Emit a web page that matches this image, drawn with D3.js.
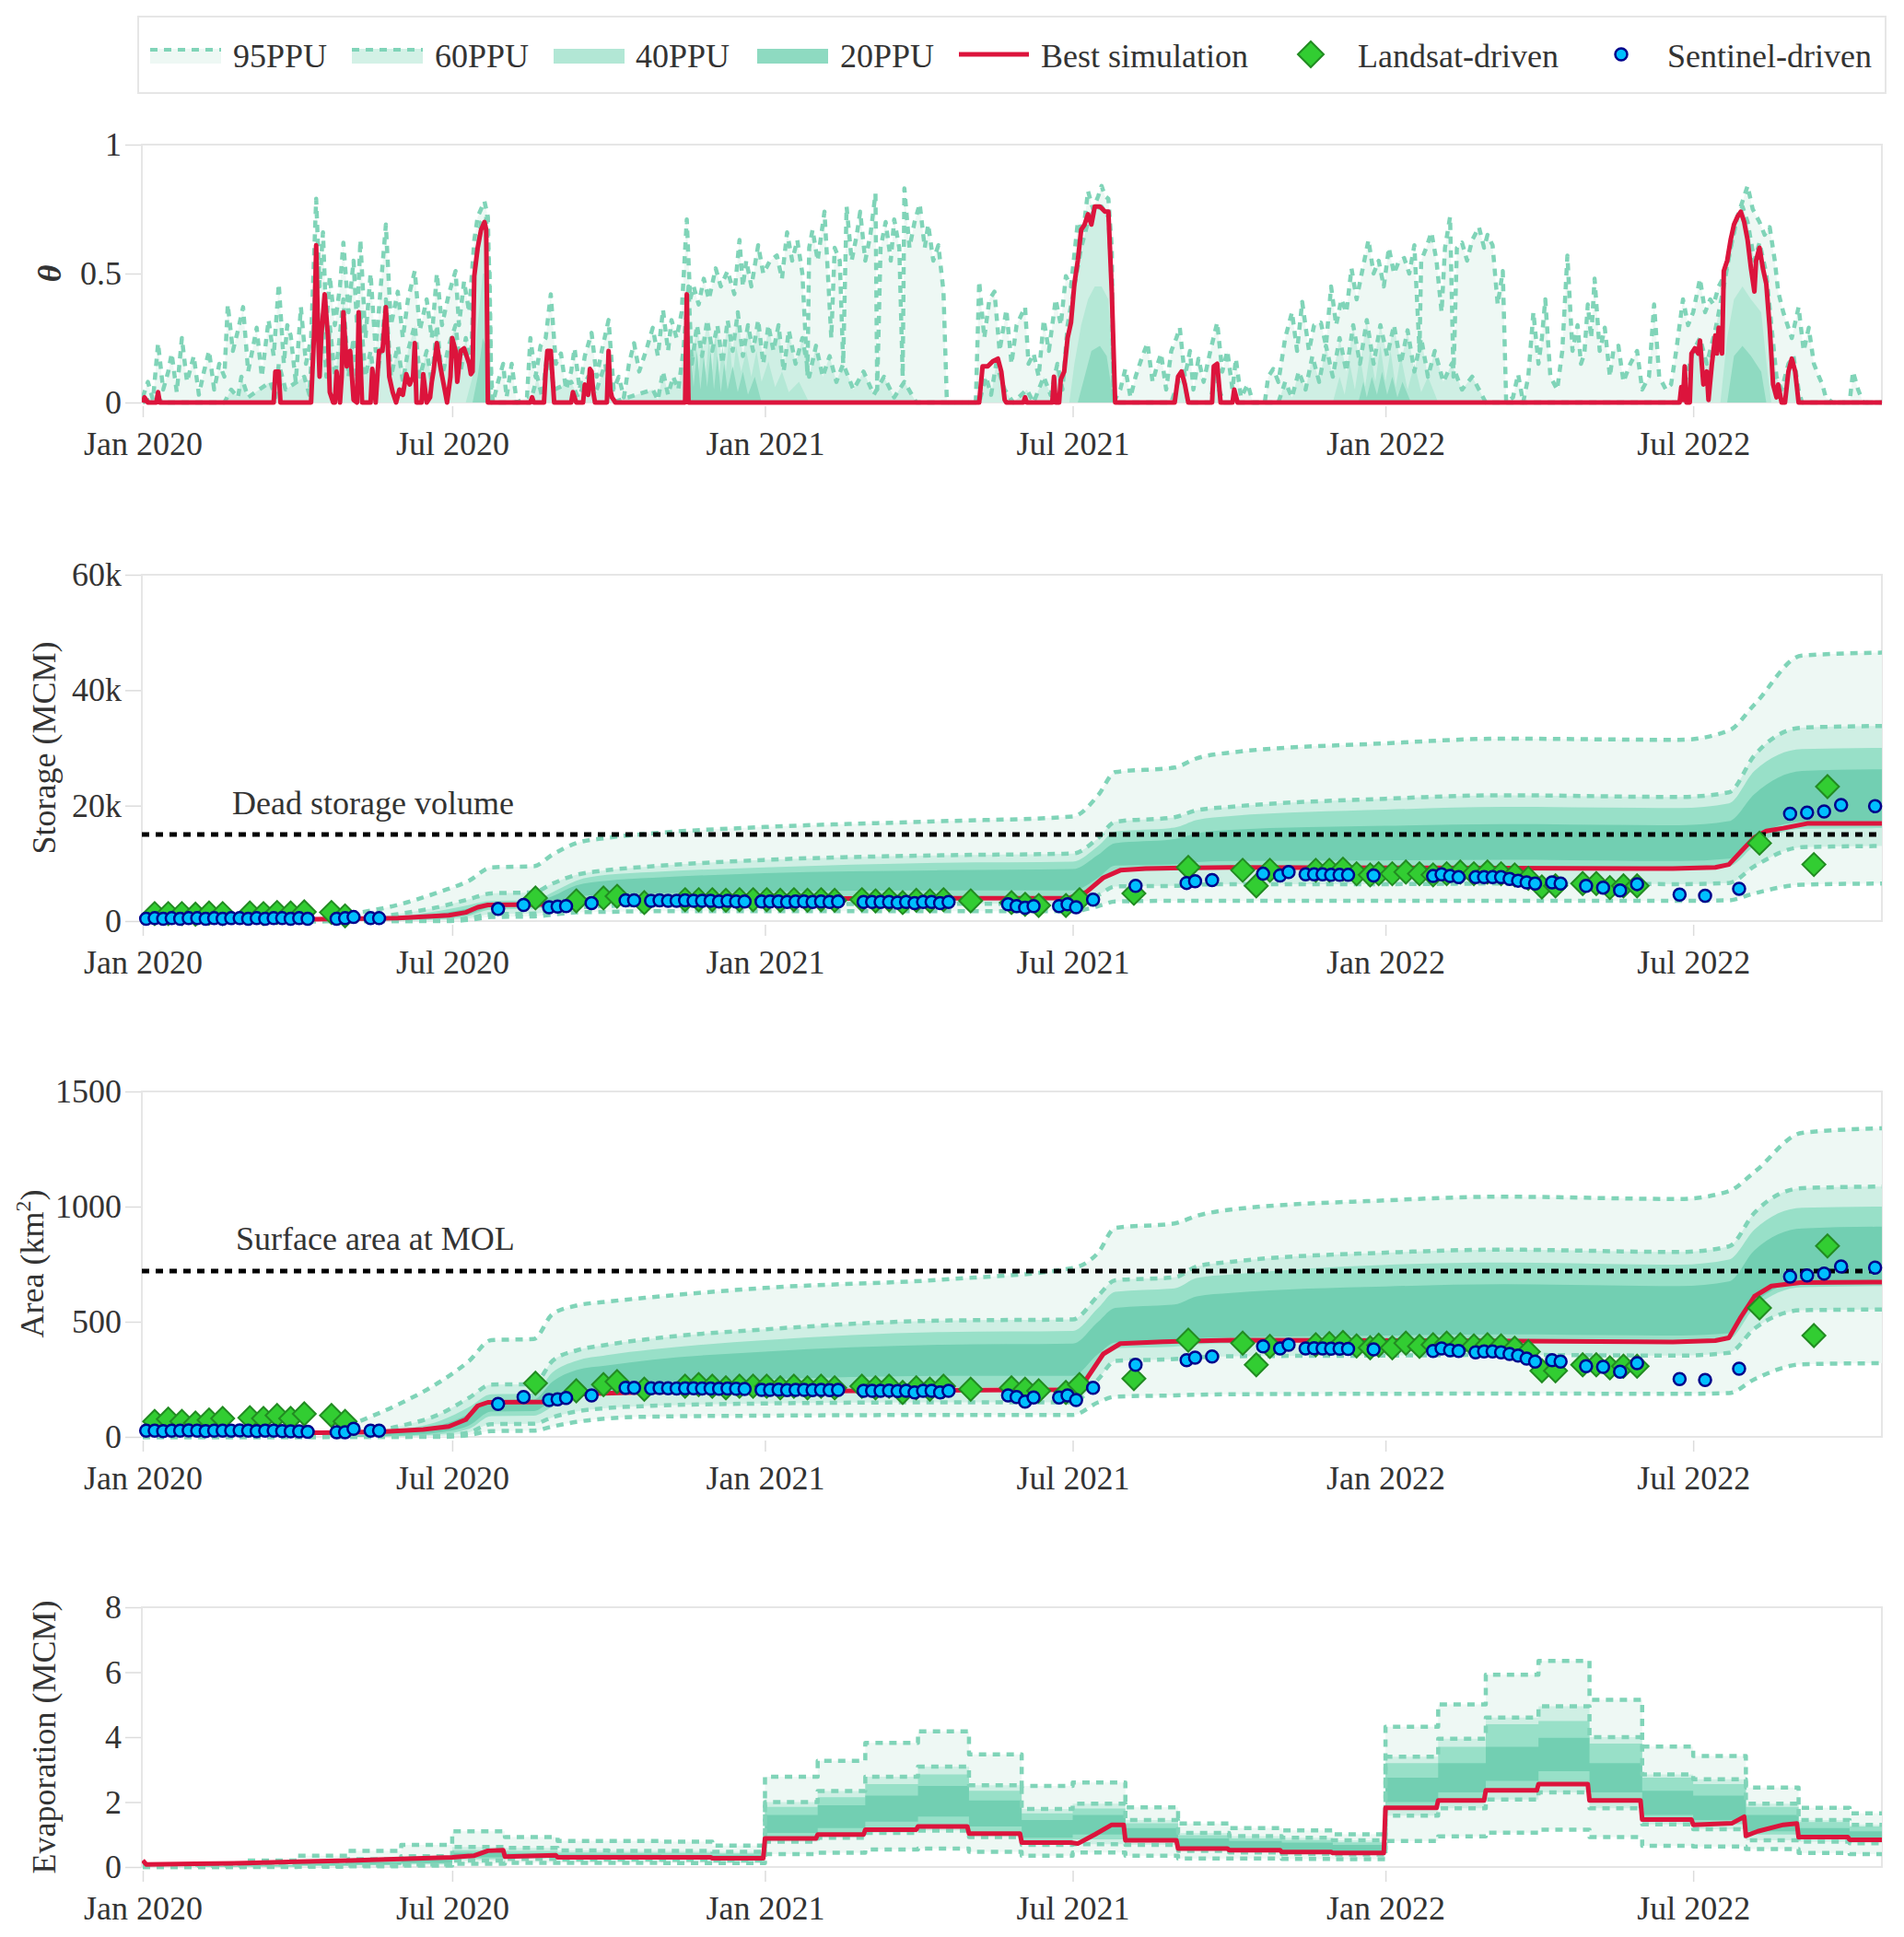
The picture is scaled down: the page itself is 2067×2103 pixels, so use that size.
<!DOCTYPE html>
<html><head><meta charset="utf-8">
<script src="https://cdn.jsdelivr.net/npm/d3@7"></script>
<style>
body{margin:0;background:#fff}
text{font-family:"Liberation Serif","Times New Roman",serif;fill:#333}
</style>
</head><body>
<svg id="chart" width="2067" height="2103"></svg>
<script>
// ---------------- DATA (days counted from 2020-01-01) ----------------
const xTickDates = ["2020-01-01","2020-07-01","2021-01-01","2021-07-01","2022-01-01","2022-07-01"];
const thetaTicks = [0, 0.5, 1];
const storageTicks = [0, 20, 40, 60];          // thousand MCM
const areaTicks = [0, 500, 1000, 1500];
const evapTicks = [0, 2, 4, 6, 8];
const legendLabels = ["95PPU","60PPU","40PPU","20PPU","Best simulation","Landsat-driven","Sentinel-driven"];
const deadStorage = 15;   // thousand MCM
const molArea = 720;      // km2

// ----- theta panel: [day, value]
const theta95 = [[0,0.02],[3,0.08],[6,0.01],[9,0.23],[12,0.05],[15,0.12],[17,0.19],[20,0.04],[23,0.25],[26,0.08],[30,0.18],[33,0.03],[36,0.12],[39,0.2],[42,0.05],[45,0.15],[48,0.1],[50,0.38],[53,0.2],[56,0.28],[59,0.37],[62,0.12],[65,0.22],[67,0.29],[70,0.1],[74,0.32],[77,0.18],[80,0.46],[83,0.15],[85,0.3],[87,0.26],[90,0.08],[93,0.37],[96,0.15],[99,0.25],[102,0.79],[104,0.45],[106,0.66],[108,0.3],[110,0.49],[113,0.3],[116,0.45],[118,0.62],[121,0.35],[124,0.55],[126,0.3],[128,0.63],[131,0.25],[134,0.5],[137,0.2],[140,0.45],[143,0.69],[146,0.3],[150,0.43],[153,0.25],[156,0.4],[160,0.51],[163,0.28],[167,0.4],[170,0.25],[173,0.5],[176,0.3],[180,0.42],[184,0.51],[186,0.3],[189,0.47],[192,0.35],[195,0.63],[197,0.72],[199,0.75],[201,0.78],[203,0.72],[205,0.1],[206,0],[209,0.08],[212,0.15],[214,0.02],[217,0.15],[220,0],[226,0.02],[228,0.25],[231,0.1],[234,0.22],[237,0.25],[240,0.42],[243,0.15],[246,0.19],[249,0.05],[252,0.12],[254,0.21],[257,0.05],[260,0.18],[264,0.27],[267,0.1],[270,0.2],[274,0.32],[277,0.05],[280,0.1],[283,0.02],[286,0.15],[289,0.23],[292,0.12],[296,0.2],[300,0.29],[303,0.18],[306,0.36],[309,0.2],[311,0.32],[314,0.25],[317,0.35],[320,0.71],[322,0.4],[324,0.45],[327,0.38],[330,0.48],[333,0.4],[337,0.52],[340,0.45],[344,0.51],[348,0.42],[351,0.63],[353,0.45],[355,0.55],[358,0.45],[362,0.61],[365,0.5],[369,0.55],[373,0.57],[376,0.48],[379,0.66],[382,0.55],[385,0.63],[388,0.5],[391,0.1],[392,0.6],[394,0.67],[397,0.55],[401,0.74],[403,0.5],[405,0.25],[407,0.6],[410,0.55],[412,0.15],[414,0.76],[417,0.55],[420,0.65],[422,0.74],[425,0.55],[428,0.65],[431,0.81],[432,0.05],[434,0.6],[437,0.7],[440,0.55],[442,0.71],[445,0.6],[447,0.1],[448,0.83],[451,0.6],[454,0.7],[457,0.77],[460,0.6],[462,0.69],[465,0.55],[468,0.61],[471,0.43],[473,0],[490,0],[492,0.47],[495,0.25],[498,0.4],[501,0.43],[504,0.2],[508,0.36],[511,0.15],[514,0.3],[519,0.37],[521,0.15],[524,0.19],[527,0.1],[530,0.32],[533,0.2],[537,0.4],[540,0.3],[543,0.49],[546,0.45],[550,0.7],[553,0.65],[556,0.82],[559,0.75],[562,0.8],[564,0.84],[566,0.8],[568,0.79],[570,0.6],[571,0],[575,0.05],[578,0.13],[581,0.02],[584,0.1],[588,0.18],[591,0.23],[594,0.08],[597,0.15],[599,0.19],[602,0.05],[605,0.2],[608,0.25],[610,0.29],[613,0.1],[616,0.2],[618,0.05],[621,0.17],[624,0.08],[628,0.2],[632,0.31],[635,0.12],[638,0.2],[641,0.05],[643,0.17],[646,0.02],[650,0.07],[653,0],[660,0],[662,0.1],[665,0.13],[668,0.08],[672,0.25],[676,0.35],[679,0.2],[682,0.39],[686,0.2],[689,0.3],[693,0.31],[696,0.22],[699,0.45],[702,0.3],[705,0.4],[708,0.35],[711,0.52],[714,0.4],[717,0.5],[721,0.63],[724,0.5],[727,0.55],[730,0.45],[733,0.6],[736,0.5],[739,0.55],[742,0.56],[745,0.5],[748,0.61],[751,0.2],[752,0.55],[755,0.6],[758,0.66],[761,0.55],[764,0.35],[766,0.6],[769,0.72],[771,0.1],[773,0.6],[776,0.62],[779,0.55],[782,0.63],[786,0.68],[789,0.6],[791,0.65],[794,0.61],[797,0.38],[800,0.51],[802,0],[806,0.02],[809,0.11],[812,0],[815,0.1],[818,0.35],[821,0.15],[823,0.25],[825,0.4],[828,0.1],[832,0.05],[835,0.2],[838,0.57],[841,0.2],[844,0.3],[846,0.15],[848,0.19],[850,0.38],[852,0.25],[854,0.48],[857,0.2],[860,0.29],[863,0.1],[865,0.2],[868,0.22],[871,0.08],[875,0.15],[879,0.2],[882,0.05],[886,0.1],[889,0.38],[892,0.1],[896,0.05],[899,0.07],[902,0.2],[906,0.4],[909,0.3],[912,0.35],[916,0.48],[919,0.35],[922,0.4],[924,0.38],[927,0.45],[931,0.5],[934,0.6],[938,0.72],[941,0.78],[944,0.84],[947,0.75],[951,0.7],[954,0.65],[957,0.68],[960,0.55],[962,0.43],[965,0.35],[967,0.31],[970,0.25],[974,0.37],[977,0.2],[980,0.29],[983,0.15],[986,0.1],[988,0.07],[990,0.02],[994,0],[1004,0],[1006,0.12],[1009,0.05],[1012,0],[1023,0]];
const theta60 = [[0,0],[8,0.02],[12,0],[48,0],[52,0.05],[56,0.02],[58,0.1],[62,0.02],[75,0.08],[78,0.02],[80,0.15],[84,0.05],[95,0.1],[98,0.03],[100,0.25],[102,0.55],[104,0.15],[106,0.3],[108,0.1],[110,0.3],[113,0.1],[115,0.2],[118,0.4],[121,0.1],[124,0.25],[126,0.08],[128,0.35],[131,0.1],[134,0.2],[137,0.05],[140,0.2],[143,0.4],[146,0.1],[150,0.22],[153,0.08],[156,0.2],[160,0.3],[163,0.1],[167,0.2],[170,0.08],[173,0.3],[176,0.1],[180,0.22],[184,0.3],[187,0.12],[190,0.25],[193,0.15],[195,0.5],[199,0.7],[202,0.72],[204,0.5],[205,0],[228,0],[232,0.1],[235,0.02],[238,0.2],[242,0.05],[252,0.08],[256,0.02],[262,0.1],[266,0.03],[272,0.15],[276,0],[300,0.05],[303,0.01],[306,0.12],[309,0.03],[312,0.1],[315,0.05],[318,0.2],[321,0.45],[323,0.15],[326,0.3],[329,0.18],[332,0.32],[335,0.2],[338,0.3],[341,0.15],[344,0.32],[347,0.2],[350,0.35],[353,0.18],[356,0.3],[359,0.2],[362,0.32],[365,0.15],[368,0.3],[371,0.2],[374,0.3],[377,0.12],[380,0.28],[384,0.15],[388,0.25],[392,0.1],[396,0.22],[400,0.1],[404,0.18],[408,0.08],[412,0.15],[418,0.05],[424,0.12],[430,0.03],[436,0.1],[442,0.02],[448,0.08],[455,0],[492,0],[496,0.1],[499,0.03],[502,0.15],[507,0.05],[512,0],[520,0.05],[524,0],[530,0.1],[534,0.03],[538,0.15],[541,0.05],[544,0.3],[548,0.45],[552,0.6],[556,0.7],[560,0.75],[564,0.76],[568,0.72],[570,0.45],[571,0],[605,0],[609,0.08],[612,0.1],[615,0],[628,0],[631,0.12],[633,0.05],[636,0],[668,0],[672,0.08],[676,0.02],[680,0.12],[684,0.05],[688,0.18],[692,0.08],[696,0.22],[700,0.1],[704,0.25],[708,0.12],[712,0.3],[716,0.15],[720,0.32],[724,0.15],[728,0.3],[732,0.18],[736,0.3],[740,0.15],[744,0.28],[748,0.12],[752,0.25],[756,0.1],[760,0.2],[765,0.08],[770,0.15],[776,0.05],[782,0.1],[790,0],[905,0],[908,0.1],[912,0.2],[916,0.25],[920,0.15],[925,0.28],[930,0.45],[934,0.6],[938,0.72],[941,0.76],[944,0.7],[948,0.55],[951,0.62],[955,0.5],[958,0.3],[961,0.1],[964,0.05],[968,0.15],[971,0.18],[974,0.05],[976,0],[1023,0]];
const theta40 = [[0,0],[190,0],[194,0.1],[197,0.3],[200,0.5],[202,0.5],[204,0.2],[205,0],[318,0],[321,0.28],[323,0.1],[325,0.25],[327,0.12],[329,0.26],[331,0.1],[333,0.24],[335,0.12],[337,0.27],[339,0.1],[341,0.22],[343,0.12],[345,0.25],[347,0.1],[349,0.22],[352,0.12],[355,0.2],[358,0.1],[361,0.2],[364,0.08],[368,0.16],[372,0.06],[376,0.12],[380,0.04],[386,0.08],[392,0],[545,0],[548,0.15],[552,0.3],[556,0.4],[560,0.45],[564,0.45],[568,0.4],[570,0.15],[571,0],[700,0],[704,0.1],[707,0.03],[710,0.15],[713,0.05],[716,0.18],[719,0.06],[722,0.2],[725,0.08],[728,0.22],[731,0.08],[734,0.2],[737,0.06],[740,0.18],[744,0.05],[748,0.15],[752,0.04],[756,0.1],[762,0],[928,0],[932,0.25],[936,0.4],[941,0.45],[946,0.4],[952,0.35],[956,0.1],[958,0],[1023,0]];
const theta20 = [[0,0],[194,0],[197,0.1],[200,0.25],[203,0.2],[205,0],[320,0],[322,0.22],[324,0.06],[326,0.2],[328,0.05],[330,0.18],[332,0.06],[334,0.2],[336,0.05],[338,0.18],[340,0.04],[342,0.15],[344,0.05],[347,0.14],[350,0.04],[353,0.12],[356,0.03],[360,0.1],[364,0],[550,0],[554,0.1],[558,0.2],[563,0.22],[567,0.18],[570,0.05],[571,0],[715,0],[718,0.08],[720,0.02],[723,0.1],[726,0.03],[729,0.12],[732,0.03],[735,0.1],[738,0.02],[741,0.08],[746,0],[932,0],[936,0.18],[941,0.22],[946,0.18],[952,0.12],[955,0],[1023,0]];
const thetaBest = [[0,0],[1,0.02],[3,0],[8,0],[9,0.04],[10,0],[77,0],[78,0.12],[80,0.12],[81,0],[99,0],[101,0.3],[102,0.61],[103,0.3],[104,0.1],[105,0.26],[107,0.42],[109,0.25],[110,0.04],[112,0],[113,0],[114,0.12],[116,0],[117,0.1],[118,0.35],[120,0.14],[122,0.2],[124,0.01],[126,0],[127,0.35],[129,0],[134,0],[135,0.13],[137,0],[139,0.2],[141,0.2],[143,0.37],[145,0.1],[147,0.04],[149,0],[151,0.05],[153,0.03],[155,0.11],[157,0.07],[159,0.1],[160,0.23],[161,0],[164,0],[165,0.11],[167,0],[169,0.02],[170,0.08],[171,0.12],[173,0.23],[175,0.14],[177,0.07],[179,0],[181,0.1],[182,0.25],[184,0.2],[185,0.08],[187,0.2],[189,0.21],[190,0.19],[192,0.15],[193,0.11],[194,0.12],[195,0.49],[197,0.6],[199,0.67],[201,0.7],[202,0.67],[203,0],[228,0],[229,0.02],[230,0],[236,0],[237,0.12],[238,0.2],[240,0.2],[241,0.1],[242,0],[252,0],[253,0.04],[255,0],[259,0],[260,0.07],[262,0.03],[263,0.13],[264,0.12],[265,0.04],[266,0],[273,0],[274,0.2],[275,0.05],[276,0.02],[278,0],[319,0],[320,0.42],[321,0],[492,0],[494,0.14],[497,0.14],[500,0.16],[503,0.17],[505,0.12],[507,0.01],[508,0],[518,0],[519,0.02],[520,0],[535,0],[536,0.1],[537,0],[539,0],[540,0.09],[542,0.12],[544,0.25],[546,0.31],[548,0.46],[550,0.55],[552,0.67],[554,0.69],[556,0.73],[558,0.69],[560,0.76],[563,0.76],[566,0.74],[568,0.74],[570,0.43],[572,0],[607,0],[609,0.1],[611,0.12],[613,0.07],[615,0],[629,0],[630,0.14],[632,0.15],[634,0],[641,0],[642,0.05],[644,0],[904,0],[905,0.06],[906,0.01],[907,0.14],[908,0],[910,0],[911,0.19],[913,0.21],[915,0.19],[916,0.24],[918,0.07],[920,0.12],[921,0.01],[923,0.15],[925,0.26],[926,0.19],[927,0.29],[929,0.19],[930,0.51],[932,0.55],[934,0.63],[936,0.69],[938,0.72],[940,0.74],[942,0.7],[944,0.63],[946,0.52],[948,0.43],[949,0.55],[951,0.6],[953,0.52],[955,0.46],[957,0.29],[959,0.07],[961,0.02],[962,0.07],[964,0],[966,0],[968,0.12],[970,0.17],[972,0.12],[974,0],[1023,0]];

// ----- storage / area uncertainty bands (node days)
const bandDay = [0,105,125,150,175,192,205,230,241,255,273,300,366,470,547,562,572,607,620,640,731,800,904,933,948,976,1023];
const storHi95 = [0,0,1.3,2.8,5.1,7.0,9.3,9.5,11.5,13.5,14.4,15.2,16.3,17.3,18.1,21.8,25.8,26.6,28.2,29.2,30.8,31.6,31.4,33.0,37.5,46.0,46.5];
const storHi60 = [0,0,0.3,1.2,2.5,3.8,4.8,5.0,6.5,8.0,8.8,9.5,10.6,11.4,11.7,14.4,17.2,18.0,19.2,19.8,21.2,21.8,21.5,22.3,28.7,33.5,33.8];
const storHi40 = [0,0,0.2,0.8,1.8,2.8,3.5,3.6,5.0,7.0,8.0,8.5,9.3,10.1,10.3,13.0,15.5,16.2,17.5,18.2,19.3,19.8,19.6,20.4,26.0,29.8,30.0];
const storHi20 = [0,0,0.1,0.5,1.3,2.2,3.0,3.1,4.3,6.2,7.0,7.5,8.3,8.8,9.0,11.5,13.5,14.2,15.2,15.8,16.5,16.8,16.6,17.3,22.0,26.0,26.3];
const storLo20 = [0,0,0,0.2,0.5,1.2,2.4,2.5,3.2,4.2,4.6,4.8,5.1,5.3,5.3,7.5,9.6,9.8,10.2,10.4,10.5,10.6,10.4,10.8,14.5,17.2,17.3];
const storLo40 = [0,0,0,0.1,0.3,0.9,2.0,2.1,2.8,3.6,3.9,4.0,4.1,4.2,4.2,6.5,8.6,8.8,9.1,9.2,9.3,9.4,9.2,9.5,13.0,16.0,16.1];
const storLo60 = [0,0,0,0,0.1,0.5,1.2,1.3,1.7,2.3,2.6,2.8,2.9,3.0,3.0,4.5,6.0,6.1,6.3,6.4,6.4,6.5,6.4,6.6,9.5,12.8,13.0];
const storLo95 = [0,0,0,0,0,0.2,0.7,0.8,1.1,1.5,1.6,1.7,1.7,1.7,1.7,2.6,3.4,3.5,3.5,3.5,3.5,3.5,3.5,3.6,4.8,6.3,6.5];
const storBest = [[0,0.2],[100,0.3],[150,0.5],[180,1.0],[190,1.5],[197,2.4],[203,2.8],[245,2.9],[252,3.6],[300,3.8],[545,4.0],[555,5.0],[565,7.5],[575,8.8],[590,9.1],[640,9.3],[760,9.2],[900,9.1],[925,9.3],[933,9.8],[940,12.0],[948,14.5],[955,15.6],[965,16.1],[979,16.9],[1023,16.9]];

const areaHi95 = [0,0,60,140,240,330,420,425,533,570,587,607,647,683,733,800,907,927,960,987,1027,1043,1033,1067,1150,1320,1340];
const areaHi60 = [0,0,15,45,100,170,227,229,330,375,400,427,467,505,510,613,680,693,740,760,800,813,803,827,973,1080,1087];
const areaHi40 = [0,0,8,30,70,130,185,188,280,330,355,380,420,455,460,560,630,645,690,705,747,757,748,770,900,995,1000];
const areaHi20 = [0,0,5,20,50,100,160,162,240,290,310,335,370,400,405,500,560,575,610,625,653,663,655,675,810,905,913];
const areaLo20 = [0,0,0,5,20,50,110,112,160,200,220,235,250,265,265,360,410,418,428,432,440,445,440,450,580,675,680];
const areaLo40 = [0,0,0,3,12,35,90,92,130,170,185,195,205,215,215,320,385,392,402,406,413,417,413,425,560,650,655];
const areaLo60 = [0,0,0,0,5,20,55,57,85,110,125,135,145,150,150,250,330,338,345,350,353,356,353,365,470,550,553];
const areaLo95 = [0,0,0,0,0,8,25,27,45,65,80,88,92,95,95,150,175,180,183,185,187,188,187,190,250,315,320];
const areaBest = [[0,15],[105,18],[140,22],[165,32],[180,45],[190,75],[197,135],[203,150],[245,152],[252,185],[300,195],[545,205],[555,250],[565,360],[575,405],[600,413],[640,420],[760,418],[900,412],[925,418],[933,430],[940,520],[948,610],[958,655],[975,670],[1023,672]];

// ----- satellite observations
const sentinelDay = [2,7,12,17,22,27,32,37,42,47,52,57,62,67,72,77,82,87,92,97,114,119,124,134,139,209,224,239,244,249,264,284,289,299,304,309,314,319,324,329,334,339,344,349,354,364,369,374,379,384,389,394,399,404,409,424,429,434,439,444,449,454,459,464,469,474,509,514,519,524,539,544,549,559,584,614,619,629,659,669,674,684,689,694,699,704,709,724,759,764,769,774,784,789,794,799,804,809,814,819,829,834,849,859,869,879,904,919,939,969,979,989,999,1019];
const sentinelStorage = [0.4,0.5,0.4,0.5,0.4,0.5,0.5,0.4,0.5,0.4,0.5,0.5,0.4,0.5,0.4,0.5,0.5,0.4,0.5,0.4, 0.4,0.5,0.7,0.5,0.5, 2.1,2.8,2.4,2.5,2.6,3.1,3.6,3.6, 3.5,3.6,3.5,3.5,3.6,3.5,3.5,3.5,3.4,3.5,3.4,3.4, 3.4,3.4,3.4,3.3,3.4,3.4,3.3,3.4,3.3,3.4, 3.3,3.3,3.3,3.3,3.2,3.3,3.1,3.3,3.3,3.1,3.3, 2.9,2.6,2.3,2.6, 2.6,2.9,2.4, 3.7,6.1,6.6,6.9,7.1,8.2,7.9,8.5, 8.1,8.1,8.1,8.0,8.0,8.0, 7.9, 7.8,8.1,7.8,7.6, 7.6,7.6,7.6,7.6,7.3,7.0,6.7,6.5, 6.7,6.5,6.1,5.8,5.3,6.4,4.6,4.4,5.6, 18.6,18.8,19.0,20.1,19.9];
const sentinelArea = [27,27,25,27,27,28,27,25,27,27,27,28,27,25,27,27,25,24,24,22, 20,20,35,27,27, 143,173,160,163,169,180,213,213, 211,212,211,210,211,211,210,210,209,210,209,208, 204,204,205,203,204,204,203,204,203,204, 200,200,200,201,199,200,193,200,200,193,200, 180,173,153,171, 171,180,160, 213,313,333,344,349,393,384,400, 384,385,384,383,383,382, 380, 373,384,376,373, 367,371,371,367,360,353,340,327, 333,327,307,304,283,320,251,247,296, 696,701,709,740,735];
const landsatDay = [7,15,23,31,39,47,63,71,79,87,95,111,119,231,255,271,279,295,319,327,335,343,351,359,367,375,383,391,399,407,423,431,439,447,455,463,471,487,511,519,527,543,551,583,615,647,655,663,690,698,706,714,722,727,735,743,751,759,767,775,783,791,799,807,815,823,831,847,855,863,871,879,951,983,991];
const landsatStorage = [1.3,1.3,1.3,1.2,1.4,1.3,1.4,1.3,1.5,1.4,1.6,1.5,0.9, 4.0,3.5,4.0,4.3,3.2, 3.7,3.7,3.7,3.6,3.7,3.7, 3.7,3.6,3.7,3.6,3.7,3.6, 3.7,3.5,3.7,3.2,3.6,3.5,3.7, 3.5, 3.2,2.9,2.7, 2.7,3.7, 4.8, 9.3,8.8,6.1,8.8, 8.8,8.8,9.0,8.2,8.0, 8.2,8.2,8.5,8.2, 8.0,8.2,8.5,8.2,8.5,8.2,8.0,7.4, 5.9,6.1, 6.5,6.5,5.8,6.1,6.1, 13.5,9.8,23.3];
const landsatArea = [67,77,67,60,73,80,83,80,93,80,100,93,67, 233,200,227,240,207, 220,227,220,213,220,220, 220,213,220,213,220,213, 220,213,220,193,213,207,220, 207, 213,207,200, 193,227, 253, 420,407,313,393, 400,405,410,395,387, 398,387,407,393, 400,407,400,395,400,395,385,370, 287,287, 313,313,300,307,307, 560,440,829];

// ----- evaporation (monthly, Jan 2020 .. Oct 2022)
const evMonths = ["2020-01","2020-02","2020-03","2020-04","2020-05","2020-06","2020-07","2020-08","2020-09","2020-10","2020-11","2020-12","2021-01","2021-02","2021-03","2021-04","2021-05","2021-06","2021-07","2021-08","2021-09","2021-10","2021-11","2021-12","2022-01","2022-02","2022-03","2022-04","2022-05","2022-06","2022-07","2022-08","2022-09","2022-10"];
const evHi95 = [0.03,0.1,0.2,0.35,0.5,0.68,1.1,0.92,0.8,0.8,0.78,0.66, 2.78,3.27,3.82,4.18,3.47,2.5,2.6,1.84,1.34,1.2,1.13,1.01, 4.32,5.01,5.92,6.35,5.15,3.71,3.42,2.45,1.82,1.65];
const evHi60 = [0.01,0.04,0.08,0.15,0.24,0.33,0.62,0.59,0.51,0.5,0.5,0.47, 2.0,2.34,2.78,3.09,2.52,1.79,1.95,1.45,1.05,0.95,0.9,0.82, 3.4,3.95,4.6,4.95,4.0,2.85,2.7,1.95,1.45,1.3];
const evHi40 = [0.01,0.03,0.06,0.12,0.19,0.27,0.52,0.5,0.45,0.44,0.44,0.42, 1.85,2.15,2.55,2.85,2.35,1.65,1.8,1.35,0.98,0.88,0.83,0.76, 3.2,3.7,4.4,4.5,3.8,2.75,2.55,1.85,1.38,1.25];
const evHi20 = [0.01,0.02,0.05,0.1,0.15,0.22,0.44,0.42,0.38,0.38,0.37,0.36, 1.6,1.9,2.2,2.5,2.05,1.45,1.6,1.2,0.88,0.8,0.75,0.68, 2.75,3.2,3.7,3.98,3.2,2.35,2.2,1.6,1.2,1.1];
const evLo20 = [0.005,0.01,0.02,0.05,0.08,0.12,0.3,0.32,0.3,0.3,0.29,0.28, 1.05,1.2,1.4,1.55,1.25,0.9,1.0,0.85,0.62,0.56,0.5,0.47, 2.0,2.3,2.65,2.95,2.3,1.6,1.45,1.1,0.98,0.9];
const evLo40 = [0,0.005,0.015,0.04,0.06,0.1,0.25,0.28,0.26,0.26,0.25,0.24, 0.9,1.03,1.2,1.3,1.05,0.78,0.85,0.78,0.56,0.51,0.45,0.42, 1.8,2.05,2.35,2.55,2.05,1.45,1.32,1.0,0.9,0.83];
const evLo60 = [0,0,0.01,0.03,0.05,0.08,0.2,0.25,0.23,0.23,0.22,0.2, 0.78,0.9,1.05,1.12,0.92,0.68,0.7,0.68,0.5,0.45,0.4,0.38, 1.58,1.81,2.08,2.3,1.81,1.31,1.16,0.82,0.78,0.73];
const evLo95 = [0,0,0,0.01,0.02,0.04,0.1,0.13,0.13,0.13,0.12,0.12, 0.4,0.44,0.54,0.57,0.47,0.35,0.45,0.35,0.26,0.26,0.25,0.24, 0.8,0.94,1.06,1.15,0.92,0.65,0.63,0.55,0.43,0.4];
const evBest = [[0,0.2],[2,0.08],[31,0.1],[60,0.12],[91,0.16],[121,0.2],[152,0.25],[182,0.3],[195,0.35],[203,0.5],[212,0.52],[213,0.32],[243,0.36],[244,0.3],[334,0.3],[335,0.27],[365,0.27],[366,0.88],[396,0.88],[397,1.0],[424,1.0],[425,1.15],[455,1.15],[456,1.25],[485,1.25],[486,1.03],[516,1.03],[517,0.75],[546,0.75],[550,0.72],[560,1.0],[570,1.3],[577,1.3],[578,0.82],[608,0.82],[609,0.57],[638,0.57],[639,0.52],[669,0.52],[670,0.46],[699,0.46],[700,0.43],[730,0.43],[731,1.82],[761,1.82],[762,2.05],[789,2.05],[790,2.36],[820,2.36],[821,2.55],[850,2.55],[851,2.05],[881,2.05],[882,1.46],[911,1.46],[912,1.3],[935,1.35],[942,1.55],[943,0.96],[950,1.1],[965,1.3],[973,1.34],[974,0.92],[1003,0.92],[1004,0.84],[1023,0.84]];

// ---------------- STYLE ----------------
const C95 = "#eef8f4", C60 = "#cfefe4", C40 = "#98e0c8", C20 = "#72cfb2";
const T40 = "#b4e8d6", T20 = "#8fdac1";   // lighter inner fills used in the theta panel
const L95 = "#eef8f4", L60 = "#d3f1e6", L40 = "#b2e7d5", L20 = "#8edac1";
const DASHC = "#80d4b8", RED = "#dc143c";
const FS = 36;

// ---------------- DRAW ----------------
const svg = d3.select("#chart");
const DAY0 = Date.UTC(2020,0,1);
const toDate = d => new Date(DAY0 + d*86400000);
const END_DAY = 1023;
const PL = 154, PR = 2043;
const x = d3.scaleUtc().domain([toDate(0), toDate(END_DAY)]).range([155, PR]);
const parseDay = d3.utcParse("%Y-%m-%d");
const parseMonth = d3.utcParse("%Y-%m");

function makePanel(id, top, bottom, domainMax, ticks, fmt) {
  const y = d3.scaleLinear().domain([0, domainMax]).range([bottom, top]);
  const g = svg.append("g");
  svg.append("clipPath").attr("id", "clip-" + id).append("rect")
    .attr("x", PL).attr("y", top - 3).attr("width", PR - PL).attr("height", bottom - top + 6);
  g.append("rect").attr("x", PL).attr("y", top).attr("width", PR - PL).attr("height", bottom - top)
    .attr("fill", "none").attr("stroke", "#e6e6e6").attr("stroke-width", 2);
  const ya = g.append("g").attr("transform", `translate(${PL - 1},0)`)
    .call(d3.axisLeft(y).tickValues(ticks).tickFormat(fmt).tickSize(17).tickPadding(4));
  ya.select(".domain").remove();
  ya.selectAll("line").attr("stroke", "#dcdcdc").attr("stroke-width", 1.5);
  ya.selectAll("text").attr("font-size", FS).attr("fill", "#333")
    .style("font-family", '"Liberation Serif","Times New Roman",serif');
  const xa = g.append("g").attr("transform", `translate(0,${bottom + 4})`)
    .call(d3.axisBottom(x).tickValues(xTickDates.map(parseDay)).tickFormat(d3.utcFormat("%b %Y")).tickSize(12).tickPadding(15));
  xa.select(".domain").remove();
  xa.selectAll("line").attr("stroke", "#dcdcdc").attr("stroke-width", 1.5);
  xa.selectAll("text").attr("font-size", FS).attr("fill", "#333")
    .style("font-family", '"Liberation Serif","Times New Roman",serif');
  const gc = g.append("g").attr("clip-path", `url(#clip-${id})`);
  return {g, gc, y};
}

function bandNodes(gc, y, days, lo, hi, color, curve) {
  const data = days.map((d, i) => ({d, lo: lo ? lo[i] : 0, hi: hi[i]}));
  gc.append("path").datum(data).attr("fill", color)
    .attr("d", d3.area().x(p => x(toDate(p.d))).y0(p => y(p.lo)).y1(p => y(p.hi)).curve(curve));
}
function lineNodes(gc, y, days, vals, color, w, dash, curve) {
  const data = days.map((d, i) => [d, vals[i]]);
  const p = gc.append("path").datum(data).attr("fill", "none").attr("stroke", color).attr("stroke-width", w)
    .attr("stroke-linejoin", "round")
    .attr("d", d3.line().x(q => x(toDate(q[0]))).y(q => y(q[1])).curve(curve));
  if (dash) p.attr("stroke-dasharray", dash);
  return p;
}
function pairsBand(gc, y, pairs, color) {
  gc.append("path").datum(pairs).attr("fill", color)
    .attr("d", d3.area().x(p => x(toDate(p[0]))).y0(y(0)).y1(p => y(p[1])));
}
function pairsLine(gc, y, pairs, color, w, dash) {
  const p = gc.append("path").datum(pairs).attr("fill", "none").attr("stroke", color).attr("stroke-width", w)
    .attr("stroke-linejoin", "round")
    .attr("d", d3.line().x(q => x(toDate(q[0]))).y(q => y(q[1])));
  if (dash) p.attr("stroke-dasharray", dash);
}
function diamonds(g, y, days, vals, r) {
  g.append("g").selectAll("path").data(days.map((d, i) => [d, vals[i]])).join("path")
    .attr("d", q => { const cx = x(toDate(q[0])), cy = y(q[1]); return `M${cx},${cy - r}L${cx + r},${cy}L${cx},${cy + r}L${cx - r},${cy}Z`; })
    .attr("fill", "#32cd32").attr("stroke", "#228b22").attr("stroke-width", 2);
}
function circles(g, y, days, vals, r) {
  g.append("g").selectAll("circle").data(days.map((d, i) => [d, vals[i]])).join("circle")
    .attr("cx", q => x(toDate(q[0]))).attr("cy", q => y(q[1])).attr("r", r)
    .attr("fill", "#00bfff").attr("stroke", "#00008b").attr("stroke-width", 2.5);
}
function yTitle(xPos, yPos, build) {
  const t = svg.append("text").attr("transform", `translate(${xPos},${yPos}) rotate(-90)`)
    .attr("text-anchor", "middle").attr("font-size", FS);
  build(t);
}
const DASH = "8,7";

// ---- Legend
svg.append("rect").attr("x", 150).attr("y", 18).attr("width", 1897).attr("height", 83)
  .attr("fill", "#fff").attr("stroke", "#e6e6e6").attr("stroke-width", 2);
const lg = svg.append("g");
[[163, L95, true], [382, L60, true], [601, L40, false], [822, L20, false]].forEach(([lx, col, dashed]) => {
  lg.append("rect").attr("x", lx).attr("y", 53).attr("width", 77).attr("height", 16).attr("fill", col);
  if (dashed) lg.append("line").attr("x1", lx).attr("x2", lx + 77).attr("y1", 54).attr("y2", 54)
    .attr("stroke", DASHC).attr("stroke-width", 4).attr("stroke-dasharray", DASH);
});
lg.append("line").attr("x1", 1041).attr("x2", 1117).attr("y1", 59).attr("y2", 59).attr("stroke", RED).attr("stroke-width", 5);
lg.append("path").attr("d", "M1423,45L1437,59L1423,73L1409,59Z").attr("fill", "#32cd32").attr("stroke", "#228b22").attr("stroke-width", 2);
lg.append("circle").attr("cx", 1760).attr("cy", 59).attr("r", 6.5).attr("fill", "#00bfff").attr("stroke", "#00008b").attr("stroke-width", 2.5);
[253, 472, 690, 912, 1130, 1474, 1810].forEach((lx, i) => {
  lg.append("text").attr("x", lx).attr("y", 73).attr("font-size", FS).text(legendLabels[i]);
});

// ---- Panel 1: theta
{
  const {gc, y} = makePanel("theta", 157, 437, 1, thetaTicks, d => String(d));
  pairsBand(gc, y, theta95, C95);
  pairsBand(gc, y, theta60, C60);
  pairsBand(gc, y, theta40, T40);
  pairsBand(gc, y, theta20, T20);
  pairsLine(gc, y, theta95, DASHC, 4.5, DASH);
  pairsLine(gc, y, theta60, DASHC, 4.5, DASH);
  pairsLine(gc, y, thetaBest, RED, 5);
  yTitle(66, 297, t => t.attr("font-weight", "bold").attr("font-style", "italic").text("θ"));
}

// ---- Panel 2: storage
{
  const {g, gc, y} = makePanel("stor", 624, 1000, 60, storageTicks, d => d === 0 ? "0" : d + "k");
  const cv = d3.curveMonotoneX;
  bandNodes(gc, y, bandDay, storLo95, storHi95, C95, cv);
  bandNodes(gc, y, bandDay, storLo60, storHi60, C60, cv);
  bandNodes(gc, y, bandDay, storLo40, storHi40, C40, cv);
  bandNodes(gc, y, bandDay, storLo20, storHi20, C20, cv);
  [storHi95, storLo95, storHi60, storLo60].forEach(a => lineNodes(gc, y, bandDay, a, DASHC, 4.5, DASH, cv));
  pairsLine(gc, y, storBest, RED, 5);
  gc.append("line").attr("x1", PL).attr("x2", PR).attr("y1", y(deadStorage)).attr("y2", y(deadStorage))
    .attr("stroke", "#000").attr("stroke-width", 5).attr("stroke-dasharray", "8,7");
  g.append("text").attr("x", 252).attr("y", 884).attr("font-size", FS).text("Dead storage volume");
  diamonds(g, y, landsatDay, landsatStorage, 12.5);
  circles(g, y, sentinelDay, sentinelStorage, 6.5);
  yTitle(60, 812, t => t.text("Storage (MCM)"));
}

// ---- Panel 3: area
{
  const {g, gc, y} = makePanel("area", 1185, 1560, 1500, areaTicks, d => String(d));
  const cv = d3.curveMonotoneX;
  bandNodes(gc, y, bandDay, areaLo95, areaHi95, C95, cv);
  bandNodes(gc, y, bandDay, areaLo60, areaHi60, C60, cv);
  bandNodes(gc, y, bandDay, areaLo40, areaHi40, C40, cv);
  bandNodes(gc, y, bandDay, areaLo20, areaHi20, C20, cv);
  [areaHi95, areaLo95, areaHi60, areaLo60].forEach(a => lineNodes(gc, y, bandDay, a, DASHC, 4.5, DASH, cv));
  pairsLine(gc, y, areaBest, RED, 5);
  gc.append("line").attr("x1", PL).attr("x2", PR).attr("y1", y(molArea)).attr("y2", y(molArea))
    .attr("stroke", "#000").attr("stroke-width", 5).attr("stroke-dasharray", "8,7");
  g.append("text").attr("x", 256).attr("y", 1357).attr("font-size", FS).text("Surface area at MOL");
  diamonds(g, y, landsatDay, landsatArea, 12.5);
  circles(g, y, sentinelDay, sentinelArea, 6.5);
  yTitle(47, 1372, t => {
    t.append("tspan").text("Area (km");
    t.append("tspan").attr("font-size", 24).attr("dy", -14).text("2");
    t.append("tspan").attr("dy", 14).text(")");
  });
}

// ---- Panel 4: evaporation
{
  const {gc, y} = makePanel("evap", 1745, 2027, 8, evapTicks, d => String(d));
  const mDays = evMonths.map(m => Math.round((parseMonth(m) - DAY0) / 86400000)).concat([END_DAY]);
  const ext = a => a.concat([a[a.length - 1]]);
  const cv = d3.curveStepAfter;
  bandNodes(gc, y, mDays, ext(evLo95), ext(evHi95), C95, cv);
  bandNodes(gc, y, mDays, ext(evLo60), ext(evHi60), C60, cv);
  bandNodes(gc, y, mDays, ext(evLo40), ext(evHi40), C40, cv);
  bandNodes(gc, y, mDays, ext(evLo20), ext(evHi20), C20, cv);
  [evHi95, evLo95, evHi60, evLo60].forEach(a => lineNodes(gc, y, mDays, ext(a), DASHC, 4.5, DASH, cv));
  pairsLine(gc, y, evBest, RED, 5);
  yTitle(60, 1886, t => t.text("Evaporation (MCM)"));
}
</script>
</body></html>
